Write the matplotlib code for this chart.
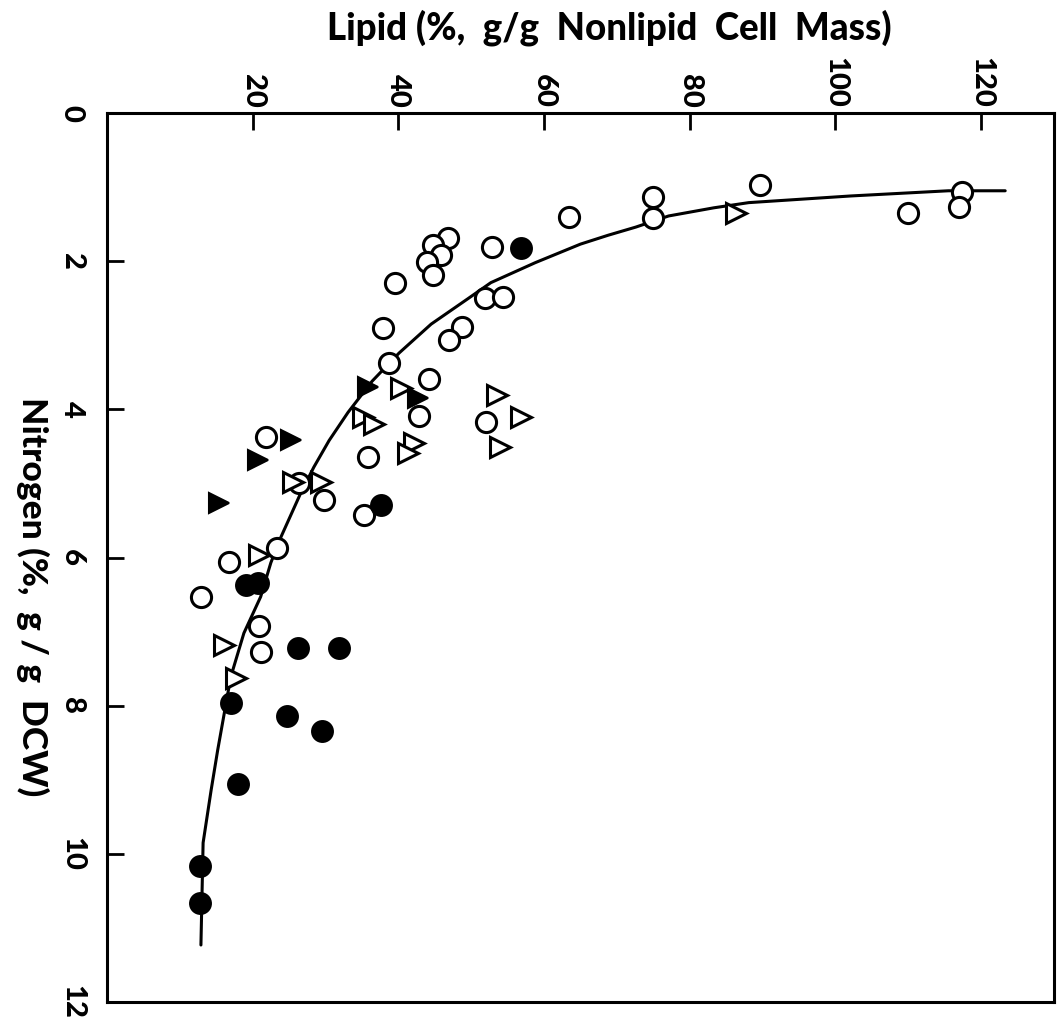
import matplotlib.pyplot as plt

open_circle_lipid = [63.4, 52.9, 46.8, 44.7, 45.8, 44.0, 44.7, 39.6, 51.9, 54.3,
                     48.8, 46.9, 37.9, 38.7, 44.2, 42.8, 52.0, 35.8, 21.8, 26.3,
                     29.8, 35.3, 23.4, 16.7, 12.9, 20.9, 21.1, 74.9, 74.9, 89.7,
                     109.9, 117.4, 116.9]
open_circle_n = [1.40, 1.81, 1.69, 1.78, 1.92, 2.01, 2.19, 2.29, 2.50, 2.48,
                 2.89, 3.06, 2.90, 3.38, 3.59, 4.09, 4.17, 4.64, 4.37, 4.99,
                 5.22, 5.43, 5.87, 6.06, 6.53, 6.92, 7.27, 1.13, 1.42, 0.97,
                 1.35, 1.06, 1.27]

open_tri_lipid = [40.3, 53.6, 56.8, 54.0, 35.1, 36.6, 42.1, 41.3, 25.5, 29.4,
                  20.9, 16.0, 17.7, 86.3]
open_tri_n = [3.71, 3.81, 4.10, 4.51, 4.10, 4.20, 4.45, 4.59, 4.98, 4.98,
              5.96, 7.18, 7.62, 1.35]

filled_tri_lipid = [35.9, 42.7, 25.2, 20.7, 15.4]
filled_tri_n = [3.70, 3.85, 4.41, 4.68, 5.26]

filled_circle_lipid = [56.8, 37.6, 19.1, 20.7, 26.2, 31.8, 17.0, 24.7, 29.5,
                       18.0, 12.8, 12.8]
filled_circle_n = [1.82, 5.29, 6.37, 6.34, 7.22, 7.22, 7.96, 8.14, 8.34,
                   9.06, 10.16, 10.66]

# hand drawn curve through the data
curve_lipid = [123.3, 115.5, 102.1, 88.1, 83.3, 77.1, 72.6, 68.8, 65.0, 58.8,
               52.7, 49.5, 44.5, 40.1, 36.4, 33.1, 30.5, 28.4, 26.6, 23.9,
               22.5, 21.1, 18.8, 17.0, 15.2, 14.3, 13.2, 12.9]
curve_n = [1.05, 1.05, 1.12, 1.21, 1.28, 1.39, 1.54, 1.65, 1.77, 2.02,
           2.29, 2.51, 2.85, 3.24, 3.62, 4.04, 4.42, 4.78, 5.13, 5.72,
           6.07, 6.53, 7.02, 7.61, 8.60, 9.14, 9.85, 11.23]

lipid_ticks = [0, 20, 40, 60, 80, 100, 120]
lipid_labels = ['', '20', '40', '60', '80', '100', '120']
n_ticks = [0, 2, 4, 6, 8, 10, 12]

plt.rcParams['font.family'] = ['Lato', 'DejaVu Sans']

fig = plt.figure(figsize=(10.61, 10.29), dpi=100)
ax = fig.add_axes([0.1008, 0.0262, 0.8926, 0.864])

ax.plot(curve_lipid, curve_n, color='black', lw=2.2, zorder=1,
        solid_capstyle='round', solid_joinstyle='round')
ax.plot(open_circle_lipid, open_circle_n, 'o', ms=14.5, mfc='white',
        mec='black', mew=2.2, ls='none', zorder=3)
ax.plot(open_tri_lipid, open_tri_n, '>', ms=14, mfc='white',
        mec='black', mew=2.2, ls='none', zorder=3)
ax.plot(filled_tri_lipid, filled_tri_n, '>', ms=14, mfc='black',
        mec='black', mew=1.5, ls='none', zorder=4)
ax.plot(filled_circle_lipid, filled_circle_n, 'o', ms=15, mfc='black',
        mec='black', mew=1.5, ls='none', zorder=4)

ax.set_xlim(0, 130)
ax.set_ylim(12, 0)

ax.xaxis.tick_top()
ax.set_xticks(lipid_ticks)
ax.set_xticklabels(lipid_labels, rotation=-90, fontsize=21, fontweight=900)
ax.set_yticks(n_ticks)
ax.set_yticklabels([str(t) for t in n_ticks], rotation=-90, fontsize=21,
                   fontweight=900, va='center')
ax.tick_params(direction='in', length=12, width=2)
ax.tick_params(axis='x', pad=4)
ax.tick_params(axis='y', pad=16)

for s in ax.spines.values():
    s.set_linewidth(2.2)

fig.text(0.574, 1 - 28 / 1029, 'Lipid (%,  g/g  Nonlipid  Cell  Mass)',
         ha='center', va='center', fontsize=26.5, fontweight=900)
fig.text(33 / 1061, 1 - 597 / 1029, 'Nitrogen (%,  g / g  DCW)',
         ha='center', va='center', rotation=-90, fontsize=25.5, fontweight=900)

fig.savefig('out.png', dpi=100, facecolor='white')
